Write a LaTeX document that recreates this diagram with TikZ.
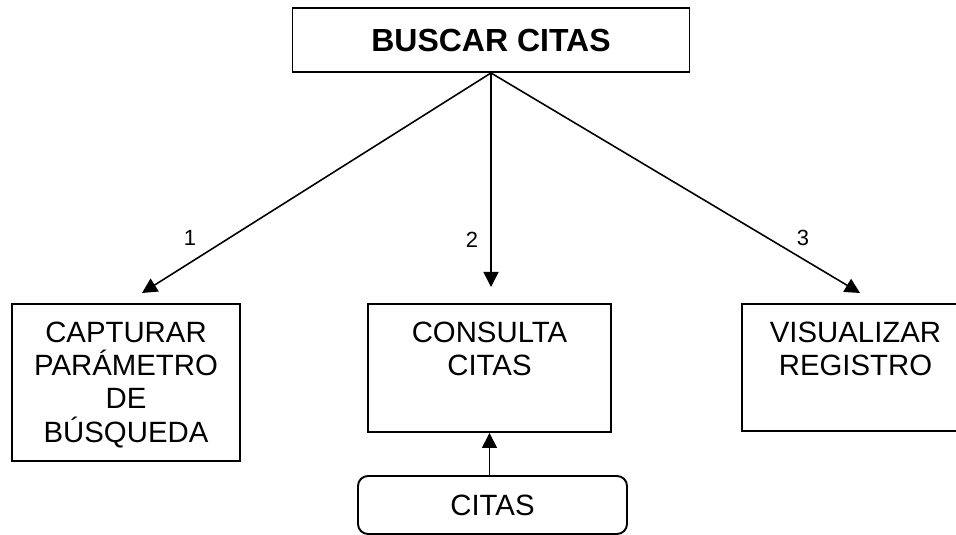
\documentclass[tikz,border=0pt]{standalone}
\usepackage{fontspec}
\setsansfont{Liberation Sans}
\usetikzlibrary{arrows.meta,positioning}

\begin{document}
\begin{tikzpicture}[every node/.style={font=\sffamily},box/.style={draw,line width=1.1pt,inner sep=0pt},txt/.style={font=\sffamily\fontsize{16.7}{18.9}\selectfont,align=center,inner sep=0pt,anchor=north},arrow/.style={-{Triangle[length=3mm,width=3mm]},line width=0.9pt},num/.style={font=\sffamily\fontsize{12.5}{15}\selectfont}]
\clip (0,0) rectangle (19.12,10.68);
\fill[white] (0,0) rectangle (19.12,10.68);

\node[box,minimum width=7.94cm,minimum height=1.28cm,font=\sffamily\bfseries\fontsize{18.2}{21}\selectfont] (buscar) at (9.82,9.88) {BUSCAR CITAS};
\node[box,minimum width=4.56cm,minimum height=3.14cm] (capturar) at (2.52,3.03) {};
\node[box,minimum width=4.86cm,minimum height=2.56cm] (consulta) at (9.79,3.32) {};
\node[box,minimum width=4.54cm,minimum height=2.54cm] (visualizar) at (17.11,3.33) {};
\node[box,rounded corners=0.2cm,minimum width=5.38cm,minimum height=1.16cm,font=\sffamily\fontsize{16.7}{18.9}\selectfont] (citas) at (9.85,0.58) {CITAS};

\node[txt] (capturartxt) at ([yshift=-0.37cm]capturar.north) {CAPTURAR\\PARÁMETRO\\DE\\BÚSQUEDA};
\node[txt] (consultatxt) at ([yshift=-0.37cm]consulta.north) {CONSULTA\\CITAS};
\node[txt] (visualizartxt) at ([yshift=-0.37cm]visualizar.north) {VISUALIZAR\\REGISTRO};

\coordinate (tip1) at (2.84,4.82); \coordinate (tip2) at (9.82,4.94); \coordinate (tip3) at (17.2,4.82);
\draw[arrow] (buscar.south) -- (tip1); \draw[arrow] (buscar.south) -- (tip2); \draw[arrow] (buscar.south) -- (tip3);
\draw[arrow] (consulta.south |- citas.north) -- (consulta.south);

\node[num] (n1) at (3.8,5.92) {1}; \node[num] (n2) at (9.44,5.88) {2}; \node[num] (n3) at (16.06,5.92) {3};

\end{tikzpicture}
\end{document}
